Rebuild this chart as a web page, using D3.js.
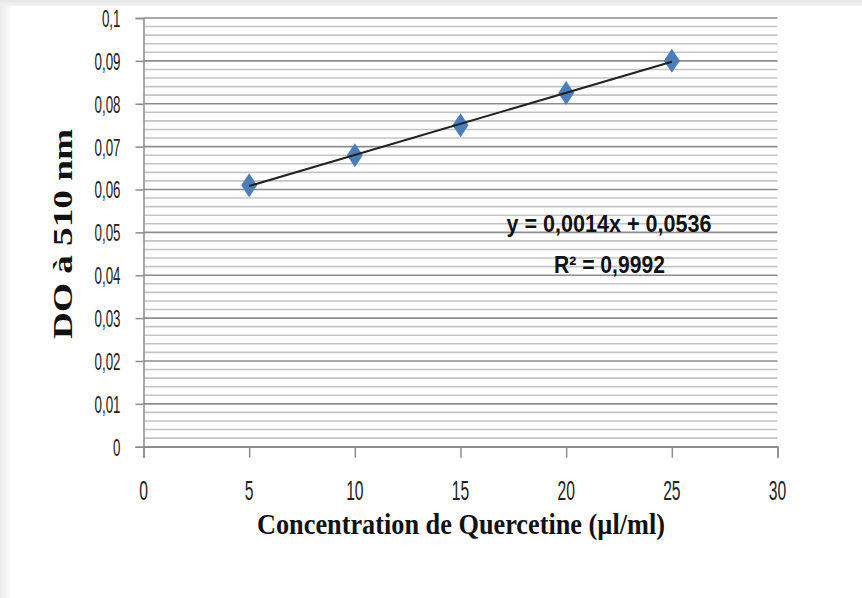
<!DOCTYPE html>
<html>
<head>
<meta charset="utf-8">
<script src="https://cdn.jsdelivr.net/npm/d3@7"></script>
<style>
  body { margin: 0; background: #fff; }
  svg { display: block; }
</style>
</head>
<body>
<div id="chart"></div>
<script>
// data
var concentrations = [5, 10, 15, 20, 25];
var absorbances = [0.061, 0.068, 0.075, 0.0825, 0.090];
var xTicks = [0, 5, 10, 15, 20, 25, 30];
var yTicks = [0, 0.01, 0.02, 0.03, 0.04, 0.05, 0.06, 0.07, 0.08, 0.09, 0.1];
var equationText = "y = 0,0014x + 0,0536";
var r2Value = "0,9992";

var all_width = 862, all_height = 598;
var margin = {top: 18, right: 84.5, bottom: 151.3, left: 143.5},
    width = all_width - margin.left - margin.right,
    height = all_height - margin.top - margin.bottom;

var root = d3.select("#chart").append("svg")
  .attr("width", all_width)
  .attr("height", all_height);

// soft grey border at top and left (screenshot edge)
var defs = root.append("defs");
var gTop = defs.append("linearGradient").attr("id", "gtop").attr("x1", 0).attr("y1", 0).attr("x2", 0).attr("y2", 1);
gTop.append("stop").attr("offset", "0%").attr("stop-color", "#e6e6e6");
gTop.append("stop").attr("offset", "100%").attr("stop-color", "#f4f4f4");
var gLeft = defs.append("linearGradient").attr("id", "gleft").attr("x1", 0).attr("y1", 0).attr("x2", 1).attr("y2", 0);
gLeft.append("stop").attr("offset", "0%").attr("stop-color", "#ececec");
gLeft.append("stop").attr("offset", "100%").attr("stop-color", "#fbfbfb");
root.append("rect").attr("x", 0).attr("y", 0).attr("width", 10).attr("height", all_height).attr("fill", "url(#gleft)");
root.append("rect").attr("x", 0).attr("y", 0).attr("width", all_width).attr("height", 6).attr("fill", "url(#gtop)");

var svg = root.append("g")
  .attr("transform", "translate(" + margin.left + "," + margin.top + ")");

var x = d3.scaleLinear().domain([0, 30]).range([0, width]);
var y = d3.scaleLinear().domain([0, 0.1]).range([height, 0]);

// minor gridlines every 0.002
var minor = d3.range(0, 101, 2).map(function(d) { return d / 1000; })
  .filter(function(d) { return Math.round(d * 1000) % 10 != 0; });
svg.selectAll(".minor")
  .data(minor)
  .enter()
  .append("line")
    .attr("x1", 0)
    .attr("x2", width)
    .attr("y1", function(d) { return y(d); })
    .attr("y2", function(d) { return y(d); })
    .attr("stroke", "#c4c4c4")
    .attr("stroke-width", 1.6);

// major gridlines
svg.selectAll(".major")
  .data(yTicks)
  .enter()
  .append("line")
    .attr("x1", 0)
    .attr("x2", width)
    .attr("y1", function(d) { return y(d); })
    .attr("y2", function(d) { return y(d); })
    .attr("stroke", "#8c8c8c")
    .attr("stroke-width", 1.6);

// y axis
var yAxis = svg.append("g")
  .call(d3.axisLeft(y).tickValues(yTicks).tickSize(8).tickFormat(""));
yAxis.select(".domain").attr("stroke", "#8c8c8c").attr("stroke-width", 1.5);
yAxis.selectAll(".tick line").attr("stroke", "#8c8c8c").attr("stroke-width", 1.5);

// x axis
var xAxis = svg.append("g")
  .attr("transform", "translate(0," + height + ")")
  .call(d3.axisBottom(x).tickValues(xTicks).tickSize(11).tickFormat(""));
xAxis.select(".domain").attr("stroke", "#8c8c8c").attr("stroke-width", 1.5);
xAxis.selectAll(".tick line").attr("stroke", "#8c8c8c").attr("stroke-width", 1.5);

var fmt = function(d) { return String(d).replace(".", ","); };

// tick labels (narrow font)
svg.selectAll(".ylab")
  .data(yTicks)
  .enter()
  .append("g")
    .attr("transform", function(d) { return "translate(-23," + (y(d) + 9) + ") scale(0.58,1)"; })
  .append("text")
    .attr("text-anchor", "end")
    .style("font-family", "'Liberation Sans', Arial, sans-serif")
    .style("font-size", "23px")
    .attr("fill", "#222")
    .text(fmt);

svg.selectAll(".xlab")
  .data(xTicks)
  .enter()
  .append("g")
    .attr("transform", function(d) { return "translate(" + x(d) + "," + (height + 53) + ") scale(0.58,1)"; })
  .append("text")
    .attr("text-anchor", "middle")
    .style("font-family", "'Liberation Sans', Arial, sans-serif")
    .style("font-size", "27px")
    .attr("fill", "#222")
    .text(fmt);

// points
var pts = concentrations.map(function(c, i) { return {x: c, y: absorbances[i]}; });
svg.selectAll(".pt")
  .data(pts)
  .enter()
  .append("path")
    .attr("transform", function(d) { return "translate(" + x(d.x) + "," + y(d.y) + ")"; })
    .attr("d", "M0,-12L8,0L0,12L-8,0Z")
    .attr("fill", "#4a7ebb");

// linear trendline (least squares)
var mx = d3.mean(concentrations), my = d3.mean(absorbances);
var sxy = d3.sum(pts, function(d) { return (d.x - mx) * (d.y - my); });
var sxx = d3.sum(pts, function(d) { return (d.x - mx) * (d.x - mx); });
var slope = sxy / sxx, intercept = my - slope * mx;
var xr = d3.extent(concentrations);
svg.append("line")
  .attr("x1", x(xr[0]))
  .attr("x2", x(xr[1]))
  .attr("y1", y(slope * xr[0] + intercept))
  .attr("y2", y(slope * xr[1] + intercept))
  .attr("stroke", "#222")
  .attr("stroke-width", 2);

// equation
root.append("text")
  .attr("x", 609)
  .attr("y", 232)
  .attr("text-anchor", "middle")
  .attr("textLength", 205)
  .attr("lengthAdjust", "spacingAndGlyphs")
  .style("font-family", "'Liberation Sans', Arial, sans-serif")
  .style("font-weight", "bold")
  .style("font-size", "24px")
  .attr("fill", "#111")
  .text(equationText);

root.append("text")
  .attr("x", 609.5)
  .attr("y", 273)
  .attr("text-anchor", "middle")
  .attr("textLength", 111)
  .attr("lengthAdjust", "spacingAndGlyphs")
  .style("font-family", "'Liberation Sans', Arial, sans-serif")
  .style("font-weight", "bold")
  .style("font-size", "24px")
  .attr("fill", "#111")
  .text("R² = " + r2Value);

// axis titles
root.append("text")
  .attr("transform", "translate(72,234) rotate(-90)")
  .attr("text-anchor", "middle")
  .attr("textLength", 210)
  .attr("lengthAdjust", "spacingAndGlyphs")
  .style("font-family", "'Liberation Serif', 'Times New Roman', serif")
  .style("font-weight", "bold")
  .style("font-size", "27px")
  .attr("fill", "#111")
  .text("DO à 510 nm");

root.append("text")
  .attr("x", 461)
  .attr("y", 534)
  .attr("text-anchor", "middle")
  .attr("textLength", 408)
  .attr("lengthAdjust", "spacingAndGlyphs")
  .style("font-family", "'Liberation Serif', 'Times New Roman', serif")
  .style("font-weight", "bold")
  .style("font-size", "29px")
  .attr("fill", "#111")
  .text("Concentration de Quercetine (µl/ml)");
</script>
</body>
</html>
